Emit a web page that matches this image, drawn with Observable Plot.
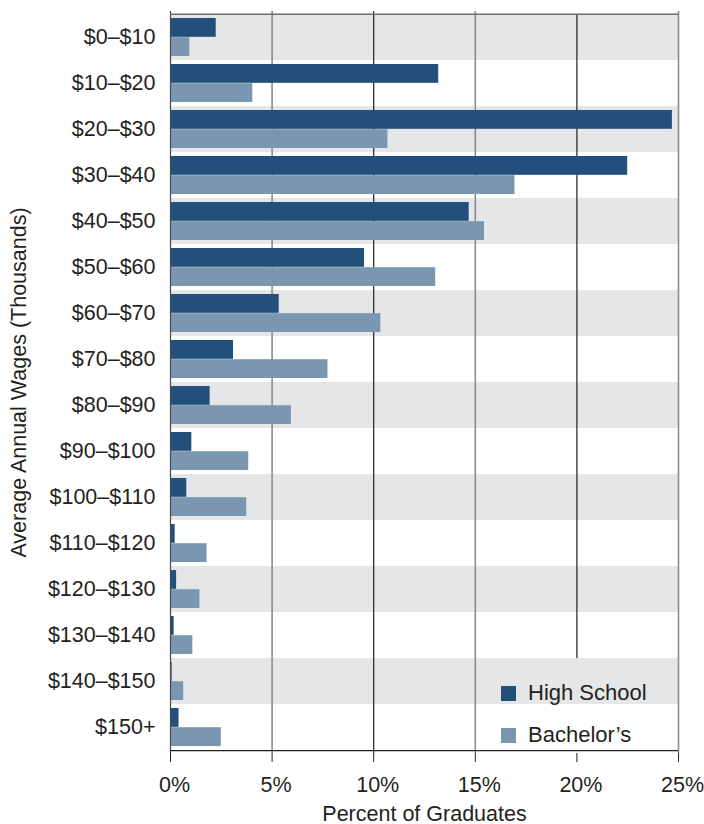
<!DOCTYPE html>
<html>
<head>
<meta charset="utf-8">
<script src="https://cdn.jsdelivr.net/npm/d3@7"></script>
<script src="https://cdn.jsdelivr.net/npm/@observablehq/plot@0.6"></script>
<style>
  body { margin: 0; background: #fff; }
  #wrap { position: relative; width: 704px; height: 824px; font-family: "Liberation Sans", Arial, sans-serif; color: #231f20; }
  #legend { position: absolute; left: 501px; top: 672px; font-size: 22px; line-height: 42px; }
  #legend .row { display: flex; align-items: center; }
  #legend .sw { width: 15px; height: 15px; margin-right: 12px; }
</style>
</head>
<body>
<div id="wrap"></div>
<script>
const categories = ["$0–$10","$10–$20","$20–$30","$30–$40","$40–$50","$50–$60","$60–$70","$70–$80","$80–$90","$90–$100","$100–$110","$110–$120","$120–$130","$130–$140","$140–$150","$150+"];
const highSchool = [2.25, 13.2, 24.7, 22.5, 14.7, 9.55, 5.35, 3.1, 1.95, 1.05, 0.8, 0.23, 0.3, 0.18, 0.08, 0.42];
const bachelors  = [0.95, 4.05, 10.7, 16.95, 15.45, 13.05, 10.35, 7.75, 5.95, 3.85, 3.75, 1.8, 1.45, 1.1, 0.65, 2.5];
const seriesNames = ["High School", "Bachelor’s"];
const xTicks = [0, 5, 10, 15, 20, 25];

const colors = ["#23507a", "#7b96b0"];
const W = 704, H = 824, mT = 11, mB = 71, mL = 170, mR = 26;
const bw = (H - mT - mB) / categories.length;
const pad = 4;
const FS = 21.5;

const rows = categories.map((c, i) => ({cat: c, i, hs: highSchool[i], ba: bachelors[i]}));
const shaded = rows.filter(d => d.i % 2 === 0);
const grid20 = rows.filter(d => d.i < 14);

const chart = Plot.plot({
  width: W, height: H,
  marginTop: mT, marginBottom: mB, marginLeft: mL, marginRight: mR,
  style: {fontFamily: "'Liberation Sans', Arial, sans-serif", fontSize: FS + "px", color: "#231f20", background: "#fff"},
  x: {domain: [0, 25], label: null},
  y: {domain: categories, padding: 0, label: null},
  marks: [
    Plot.barX(shaded, {x1: 0, x2: 25, y: "cat", fill: "#e5e6e8"}),
    Plot.ruleX([5, 15, 25], {stroke: "#8c8c8c", strokeWidth: 1.6}),
    Plot.ruleX([10], {stroke: "#231f20", strokeWidth: 1.2}),
    Plot.tickX(grid20, {x: () => 20, y: "cat", stroke: "#231f20", strokeWidth: 1.2}),
    Plot.barX(rows, {x: "hs", y: "cat", fill: colors[0], insetTop: pad, insetBottom: bw / 2}),
    Plot.barX(rows, {x: "ba", y: "cat", fill: colors[1], insetTop: bw / 2, insetBottom: pad}),
    Plot.ruleX([0], {stroke: "#4a4a4a", strokeWidth: 1.2}),
    Plot.ruleY([categories[0]], {y: d => d, dy: -bw / 2, stroke: "#6d6d6d", strokeWidth: 1.5}),
    Plot.ruleY([categories[categories.length - 1]], {y: d => d, dy: bw / 2, stroke: "#231f20", strokeWidth: 1.3}),
    Plot.axisY({tickSize: 0, tickPadding: 15, label: null, fontSize: FS, fill: "#231f20"}),
    Plot.axisX({ticks: xTicks, tickSize: 9, tickFormat: () => "", label: null, stroke: "#231f20"}),
    Plot.axisX({ticks: xTicks, tickSize: 0, tickPadding: 23, tickFormat: d => d + "%", label: null, dx: 4, fontSize: FS, fill: "#231f20"}),
    Plot.text(["Percent of Graduates"], {frameAnchor: "bottom", dy: 67, fontSize: FS, fill: "#231f20"}),
    Plot.text(["Average Annual Wages (Thousands)"], {frameAnchor: "left", textAnchor: "middle", dx: -151, rotate: -90, fontSize: FS, fill: "#231f20"})
  ]
});
const wrap = document.getElementById("wrap");
wrap.appendChild(chart);

const legend = document.createElement("div");
legend.id = "legend";
seriesNames.forEach((name, i) => {
  const row = document.createElement("div");
  row.className = "row";
  const sw = document.createElement("span");
  sw.className = "sw";
  sw.style.background = colors[i];
  const t = document.createElement("span");
  t.textContent = name;
  row.appendChild(sw); row.appendChild(t);
  legend.appendChild(row);
});
wrap.appendChild(legend);
</script>
</body>
</html>
